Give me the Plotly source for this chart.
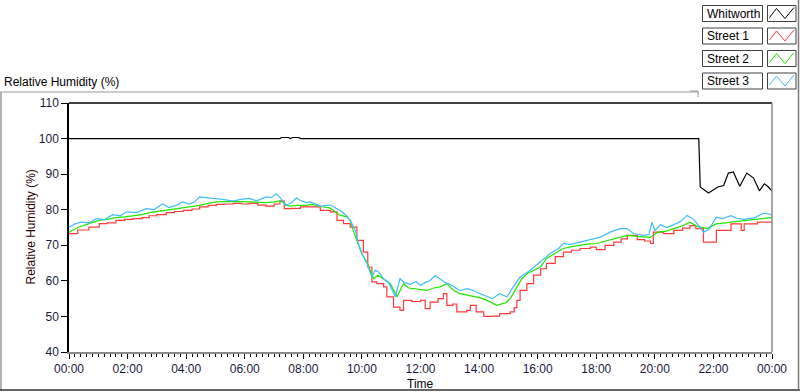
import plotly.graph_objects as go

# ---------------- data (hours since midnight, RH %) ----------------
whit_t = [0.0, 6.0, 6.05, 6.1, 7.2, 7.25, 7.5, 7.55, 7.65, 7.85, 7.9, 21.5, 21.55, 21.83,
          22.15, 22.35, 22.51, 22.68, 22.9, 23.14, 23.37, 23.57, 23.74, 23.85, 24.0]
whit_v = [100, 100, 100.2, 100, 100, 100.3, 100.3, 100, 100.3, 100.3, 100, 100, 86.4, 84.7,
          86.4, 86.8, 90.3, 90.6, 86.6, 90.3, 88.9, 85.3, 87.3, 86.6, 85.3]

s1_t = [0.0, 0.3, 0.68, 1.03, 1.3, 1.6, 1.9, 2.18, 2.5, 2.74, 3.0, 3.32, 3.6, 3.9, 4.2, 4.46,
        4.75, 5.03, 5.3, 5.6, 5.9, 6.15, 6.45, 6.73, 7.0, 7.2, 7.35, 7.6, 7.9, 8.24, 8.58,
        8.92, 9.15, 9.37, 9.6, 9.83, 10.05, 10.2, 10.34, 10.51, 10.74, 10.85, 11.08, 11.3,
        11.42, 11.7, 12.0, 12.16, 12.33, 12.6, 12.78, 12.9, 13.1, 13.24, 13.58, 13.7, 13.9,
        14.16, 14.45, 14.7, 15.06, 15.2, 15.29, 15.4, 15.63, 15.86, 16.1, 16.3, 16.6, 16.88,
        17.15, 17.45, 17.8, 18.0, 18.3, 18.6, 18.85, 19.06, 19.4, 19.65, 19.85, 19.95, 20.3,
        20.65, 20.95, 21.2, 21.4, 21.66, 21.85, 22.1, 22.6, 22.95, 23.05, 23.5, 24.0]
s1_v = [73.3, 74.3, 75.1, 76.1, 76.3, 77.0, 77.3, 77.5, 77.8, 78.3, 78.6, 79.2, 79.5, 79.8,
        80.2, 80.8, 81.2, 81.5, 81.6, 81.8, 81.6, 81.8, 81.3, 81.0, 81.6, 82.4, 80.3, 80.4,
        80.8, 80.8, 79.8, 79.4, 77.0, 76.1, 75.1, 71.4, 68.1, 63.9, 59.7, 59.2, 58.3, 55.5,
        52.6, 51.7, 54.5, 54.2, 54.5, 52.2, 54.0, 55.0, 56.4, 53.1, 53.5, 51.3, 51.7, 53.1,
        51.3, 50.0, 50.1, 50.8, 51.3, 52.5, 54.5, 57.3, 59.2, 61.6, 63.4, 64.9, 66.8, 68.1,
        68.6, 69.1, 69.5, 68.8, 70.0, 70.9, 71.8, 72.8, 71.6, 71.2, 70.5, 73.7, 73.3, 74.2,
        74.8, 75.5, 74.7, 70.9, 70.9, 74.2, 76.0, 74.2, 76.0, 76.5, 76.8]

s2_t = [0.0, 0.3, 0.68, 1.03, 1.3, 1.6, 1.9, 2.18, 2.5, 2.74, 3.0, 3.32, 3.6, 3.9, 4.2, 4.46,
        4.75, 5.03, 5.3, 5.6, 5.9, 6.15, 6.45, 6.73, 7.0, 7.2, 7.35, 7.5, 7.8, 8.1, 8.3, 8.58,
        8.9, 9.26, 9.5, 9.6, 9.7, 9.88, 10.0, 10.17, 10.4, 10.55, 10.75, 10.97, 11.2, 11.42,
        11.6, 11.76, 12.0, 12.22, 12.45, 12.67, 12.9, 13.1, 13.35, 13.6, 13.8, 14.05, 14.27,
        14.6, 14.8, 14.95, 15.1, 15.29, 15.45, 15.63, 15.85, 16.1, 16.3, 16.6, 16.88, 17.15,
        17.45, 17.7, 18.0, 18.3, 18.6, 19.06, 19.4, 19.85, 20.1, 20.4, 20.65, 20.95, 21.2,
        21.45, 21.77, 22.1, 22.4, 22.6, 23.05, 23.5, 24.0]
s2_v = [73.7, 75.0, 76.1, 77.0, 77.3, 77.8, 78.0, 78.2, 78.6, 79.2, 79.5, 79.8, 80.2, 80.5,
        80.8, 81.2, 81.8, 82.2, 82.3, 82.4, 82.3, 82.2, 82.0, 82.0, 82.2, 82.5, 81.8, 81.0,
        81.2, 81.2, 81.5, 80.9, 80.5, 78.4, 78.0, 77.0, 74.2, 70.0, 67.5, 65.3, 60.6, 61.6,
        60.5, 59.2, 55.5, 59.2, 58.0, 57.8, 57.5, 57.3, 58.0, 58.3, 59.2, 57.5, 56.4, 56.0,
        55.5, 55.2, 54.5, 53.1, 53.6, 54.0, 55.5, 58.3, 60.5, 62.0, 62.8, 63.9, 66.3, 67.8,
        69.1, 69.6, 70.0, 70.3, 70.5, 71.2, 71.9, 72.8, 72.5, 72.2, 73.7, 74.0, 74.7, 75.5,
        76.5, 75.3, 74.7, 76.0, 76.3, 76.5, 77.0, 77.3, 77.8]

s3_t = [0.0, 0.2, 0.4, 0.7, 0.93, 1.2, 1.5, 1.75, 1.96, 2.3, 2.64, 2.9, 3.2, 3.4, 3.66, 3.87,
        4.1, 4.3, 4.46, 4.7, 4.9, 5.2, 5.4, 5.6, 5.85, 6.15, 6.4, 6.73, 6.9, 7.08, 7.25, 7.4,
        7.6, 7.76, 7.9, 8.1, 8.24, 8.58, 8.92, 9.26, 9.45, 9.6, 9.78, 9.88, 10.0, 10.17,
        10.34, 10.45, 10.57, 10.75, 10.9, 11.14, 11.3, 11.45, 11.65, 11.85, 12.0, 12.15,
        12.33, 12.5, 12.67, 12.85, 13.0, 13.2, 13.35, 13.6, 13.8, 14.0, 14.27, 14.45, 14.7,
        14.95, 15.17, 15.4, 15.57, 15.75, 16.08, 16.43, 16.7, 16.88, 17.1, 17.45, 17.8,
        18.14, 18.47, 18.82, 19.05, 19.27, 19.6, 19.8, 19.9, 20.0, 20.2, 20.4, 20.65, 20.9,
        21.1, 21.3, 21.5, 21.66, 21.85, 22.1, 22.3, 22.6, 22.8, 23.05, 23.4, 23.7, 23.9, 24.0]
s3_v = [75.1, 76.0, 76.5, 76.3, 77.5, 77.2, 78.6, 78.3, 79.4, 79.2, 80.3, 80.0, 81.7, 80.6,
        81.2, 82.2, 81.6, 82.3, 83.6, 83.3, 83.2, 83.0, 82.6, 82.4, 82.9, 83.2, 82.5, 83.6,
        83.4, 84.5, 83.0, 81.2, 82.0, 83.3, 82.6, 82.0, 82.2, 81.0, 81.3, 79.8, 78.5, 77.0,
        74.2, 70.5, 67.7, 64.9, 61.1, 63.0, 62.5, 60.5, 59.7, 55.5, 60.6, 59.5, 59.0, 59.8,
        58.7, 59.5, 60.1, 61.5, 60.5, 59.5, 59.0, 58.0, 57.3, 57.8, 57.3, 56.5, 55.5, 55.0,
        56.4, 55.5, 58.3, 61.1, 62.0, 63.0, 65.3, 67.7, 69.0, 70.5, 70.2, 70.9, 71.6, 72.3,
        73.7, 74.7, 74.7, 73.3, 72.8, 73.0, 76.5, 74.2, 75.8, 75.0, 75.8, 76.8, 78.4, 77.5,
        75.5, 73.7, 74.5, 77.9, 77.5, 78.3, 77.6, 77.3, 77.7, 79.0, 78.8, 78.5]

tick_vals = [0, 2, 4, 6, 8, 10, 12, 14, 16, 18, 20, 22, 24]
tick_text = ["00:00", "02:00", "04:00", "06:00", "08:00", "10:00", "12:00",
             "14:00", "16:00", "18:00", "20:00", "22:00", "00:00"]
y_ticks = [40, 50, 60, 70, 80, 90, 100, 110]

series_names = ["Whitworth", "Street 1", "Street 2", "Street 3"]
series_colors = ["#000000", "#ff3a3a", "#22e600", "#40bdfb"]
series_shapes = ["linear", "hv", "linear", "linear"]

# ---------------- figure ----------------
W, H = 800, 392
L, R, T, B = 69, 28, 103, 40
PW, PH = W - L - R, H - T - B
FONT = "Liberation Sans"


def px(x):
    return (x - L) / PW


def py(y):
    return (H - B - y) / PH


fig = go.Figure()
for t, v, name, col, shp in zip([whit_t, s1_t, s2_t, s3_t], [whit_v, s1_v, s2_v, s3_v],
                                series_names, series_colors, series_shapes):
    fig.add_trace(go.Scatter(x=t, y=v, mode="lines", name=name,
                             line=dict(color=col, width=1.2, shape=shp),
                             showlegend=False, hoverinfo="skip"))

shapes = []
annotations = []
# plot frame: top & left black, right & bottom gray
shapes.append(dict(type="line", xref="paper", yref="paper", x0=0, x1=1, y0=1, y1=1,
                   line=dict(color="black", width=1.5)))
shapes.append(dict(type="line", xref="paper", yref="paper", x0=1, x1=1, y0=0, y1=1,
                   line=dict(color="#8a8a8a", width=1.5)))
# outer panel frame
shapes.append(dict(type="line", xref="paper", yref="paper", x0=px(0), x1=px(698), y0=py(92), y1=py(92),
                   line=dict(color="#9a9a9a", width=1)))
shapes.append(dict(type="line", xref="paper", yref="paper", x0=px(1), x1=px(1), y0=py(92), y1=py(390),
                   line=dict(color="#9a9a9a", width=1.5)))
shapes.append(dict(type="line", xref="paper", yref="paper", x0=px(0), x1=px(800), y0=py(390), y1=py(390),
                   line=dict(color="#333333", width=1.5)))
shapes.append(dict(type="line", xref="paper", yref="paper", x0=px(798.5), x1=px(798.5), y0=py(0), y1=py(390),
                   line=dict(color="#7a7a7a", width=1.5)))
shapes.append(dict(type="line", xref="paper", yref="paper", x0=px(690), x1=px(698), y0=py(91), y1=py(91),
                   line=dict(color="#9a9a9a", width=1)))
shapes.append(dict(type="line", xref="paper", yref="paper", x0=px(698), x1=px(698), y0=py(91), y1=py(97),
                   line=dict(color="#9a9a9a", width=1)))

# legend (custom)
row_y = [13.5, 36, 58.5, 81]
for name, col, yc in zip(series_names, series_colors, row_y):
    shapes.append(dict(type="rect", xref="paper", yref="paper", x0=px(702.5), x1=px(762.5),
                       y0=py(yc - 8), y1=py(yc + 8), line=dict(color="#404040", width=1),
                       fillcolor="white"))
    shapes.append(dict(type="rect", xref="paper", yref="paper", x0=px(767.5), x1=px(796),
                       y0=py(yc - 8), y1=py(yc + 8), line=dict(color="#404040", width=1),
                       fillcolor="white"))
    pts = [(769.5, yc + 4), (776.5, yc - 5), (785, yc + 5), (794, yc - 6)]
    path = "M " + " L ".join(f"{px(a):.5f},{py(b):.5f}" for a, b in pts)
    shapes.append(dict(type="path", xref="paper", yref="paper", path=path,
                       line=dict(color=col, width=1)))
    annotations.append(dict(x=px(704.5), y=py(yc), xref="paper", yref="paper", text=name,
                            showarrow=False, xanchor="left", yanchor="middle",
                            font=dict(family=FONT, size=12, color="black")))

# chart title and axis titles
annotations.append(dict(x=px(2), y=py(82), xref="paper", yref="paper", text="Relative Humidity (%)",
                        showarrow=False, xanchor="left", yanchor="middle",
                        font=dict(family=FONT, size=12, color="black")))
annotations.append(dict(x=px(30), y=0.5, xref="paper", yref="paper", text="Relative Humidity (%)",
                        showarrow=False, xanchor="center", yanchor="middle", textangle=-90,
                        font=dict(family=FONT, size=12, color="#2a0000")))
annotations.append(dict(x=0.5, y=py(384), xref="paper", yref="paper", text="Time",
                        showarrow=False, xanchor="center", yanchor="middle",
                        font=dict(family=FONT, size=12, color="black")))

fig.update_layout(
    width=W, height=H,
    margin=dict(l=L, r=R, t=T, b=B, pad=0),
    paper_bgcolor="white", plot_bgcolor="white",
    showlegend=False, hovermode=False,
    shapes=shapes, annotations=annotations,
    font=dict(family=FONT, size=12, color="black"),
    xaxis=dict(range=[0, 24], tickmode="array", tickvals=tick_vals, ticktext=tick_text,
               ticks="outside", ticklen=5, tickcolor="black", tickwidth=1,
               showgrid=False, zeroline=False, showline=True, linecolor="#8a8a8a", linewidth=1.5,
               tickfont=dict(family=FONT, size=12, color="#1a1a40"),
               minor=dict(tickmode="linear", tick0=0, dtick=0.2, ticks="outside", ticklen=3,
                          tickcolor="black", tickwidth=1, showgrid=False)),
    yaxis=dict(range=[40, 110], tickmode="array", tickvals=y_ticks,
               ticks="outside", ticklen=6, tickcolor="black", tickwidth=1,
               showgrid=False, zeroline=False, showline=True, linecolor="black", linewidth=1.5,
               tickfont=dict(family=FONT, size=12, color="#1a1a40")),
)

fig.write_html("out.html", config={"displayModeBar": False},
               post_script="document.body.style.margin='0px';document.body.style.overflow='hidden';")
